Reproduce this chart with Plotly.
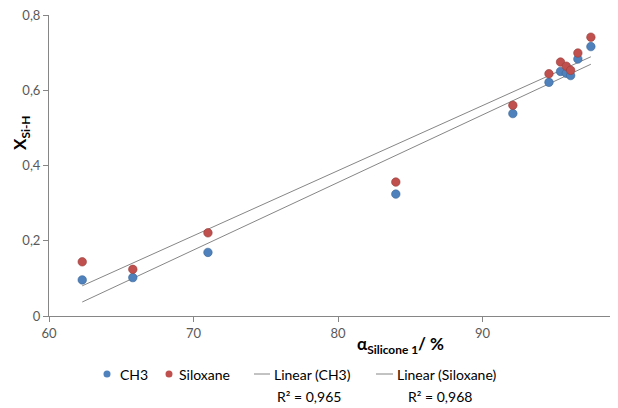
import numpy as np
import plotly.graph_objects as go

# ---- data ----
alpha_silicone = [62.3, 65.8, 71.0, 84.0, 92.1, 94.6, 95.4, 95.8, 96.1, 96.6, 97.5]
x_ch3 = [0.096, 0.102, 0.169, 0.324, 0.538, 0.621, 0.650, 0.645, 0.639, 0.683, 0.716]
x_siloxane = [0.144, 0.124, 0.221, 0.356, 0.560, 0.644, 0.675, 0.664, 0.653, 0.699, 0.741]
series_names = ["CH3", "Siloxane"]
trend_names = ["Linear (CH3)", "Linear (Siloxane)"]
r2_labels = ["R² = 0,965", "R² = 0,968"]
y_ticks = [0, 0.2, 0.4, 0.6, 0.8]
x_ticks = [60, 70, 80, 90, 100]

# page has an 8px default body margin: the figure is sized/offset to compensate
OFF = 8
W, H = 610, 400
ML, MR, MT, MB = 41, 0, 7, 92
BLUE, RED = "#4F81BD", "#C0504D"
GREY = "#868686"
FONT = "Lato"


def px2x(px):  # page pixel -> paper x
    return (px - OFF - ML) / (W - ML - MR)


def py2y(py):  # page pixel -> paper y
    return (H - MB - (py - OFF)) / (H - MT - MB)


fig = go.Figure()

xs = np.array(alpha_silicone)
for ys in (x_ch3, x_siloxane):
    k, b = np.polyfit(xs, np.array(ys), 1)
    xl = np.array([xs.min(), xs.max()])
    fig.add_trace(go.Scatter(x=xl, y=k * xl + b, mode="lines",
                             line=dict(color=GREY, width=1), showlegend=False,
                             hoverinfo="skip"))

fig.add_trace(go.Scatter(x=alpha_silicone, y=x_ch3, mode="markers", name=series_names[0],
                         marker=dict(color=BLUE, size=8.5, line=dict(color="#3A6796", width=0.6)),
                         showlegend=False))
fig.add_trace(go.Scatter(x=alpha_silicone, y=x_siloxane, mode="markers", name=series_names[1],
                         marker=dict(color=RED, size=8.5, line=dict(color="#963C3A", width=0.6)),
                         showlegend=False))

xmax = 60 + (W - ML - MR) / 14.45

fig.update_layout(
    width=W, height=H,
    margin=dict(l=ML, r=MR, t=MT, b=MB, pad=0),
    paper_bgcolor="white", plot_bgcolor="white",
    separators=", ",
    font=dict(family=FONT, size=13, color="#595959"),
    showlegend=False,
    xaxis=dict(range=[60, xmax], tickvals=x_ticks, showgrid=False, zeroline=False,
               showline=True, linecolor=GREY, linewidth=1,
               ticks="outside", ticklen=5, tickcolor=GREY, tickwidth=1,
               ticklabeloverflow="allow",
               tickfont=dict(family=FONT, size=13, color="#595959")),
    yaxis=dict(range=[0, 0.8], tickvals=y_ticks, showgrid=False, zeroline=False,
               showline=True, linecolor=GREY, linewidth=1,
               ticks="outside", ticklen=5, tickcolor=GREY, tickwidth=1,
               tickformat="~g", ticklabeloverflow="allow",
               tickfont=dict(family=FONT, size=13, color="#595959")),
)

annotations = []
shapes = []
# axis titles
annotations.append(dict(xref="paper", yref="paper", x=px2x(400), y=py2y(345),
                        text="<b>α<sub>Silicone 1</sub>/ %</b>", showarrow=False,
                        font=dict(family=FONT, size=17, color="black"),
                        xanchor="center", yanchor="middle"))
annotations.append(dict(xref="paper", yref="paper", x=px2x(21), y=py2y(133),
                        text="<b>X<sub>Si-H</sub></b>", showarrow=False, textangle=-90,
                        font=dict(family=FONT, size=17, color="black"),
                        xanchor="center", yanchor="middle"))

# manual legend
leg_y = 374
marker_pos = [107, 169]
text_pos = [118, 177]
for cx, col, name, tx in zip(marker_pos, [BLUE, RED], series_names, text_pos):
    shapes.append(dict(type="circle", xref="paper", yref="paper",
                       x0=px2x(cx - 3.5), x1=px2x(cx + 3.5),
                       y0=py2y(leg_y + 3.5), y1=py2y(leg_y - 3.5),
                       fillcolor=col, line=dict(width=0)))
    annotations.append(dict(xref="paper", yref="paper", x=px2x(tx), y=py2y(leg_y),
                            text=name, showarrow=False, xanchor="left", yanchor="middle",
                            font=dict(family=FONT, size=14, color="black")))
line_pos = [(254, 270), (376, 393)]
ltext_pos = [272, 395]
r2_pos = [275, 406]
for (a, b), name, tx, rx, r2 in zip(line_pos, trend_names, ltext_pos, r2_pos, r2_labels):
    shapes.append(dict(type="line", xref="paper", yref="paper",
                       x0=px2x(a), x1=px2x(b), y0=py2y(leg_y), y1=py2y(leg_y),
                       line=dict(color=GREY, width=1)))
    annotations.append(dict(xref="paper", yref="paper", x=px2x(tx), y=py2y(leg_y),
                            text=name, showarrow=False, xanchor="left", yanchor="middle",
                            font=dict(family=FONT, size=14, color="black")))
    annotations.append(dict(xref="paper", yref="paper", x=px2x(rx), y=py2y(396),
                            text=r2, showarrow=False, xanchor="left", yanchor="middle",
                            font=dict(family=FONT, size=14, color="black")))

fig.update_layout(annotations=annotations, shapes=shapes)
fig.write_html("out.html")
